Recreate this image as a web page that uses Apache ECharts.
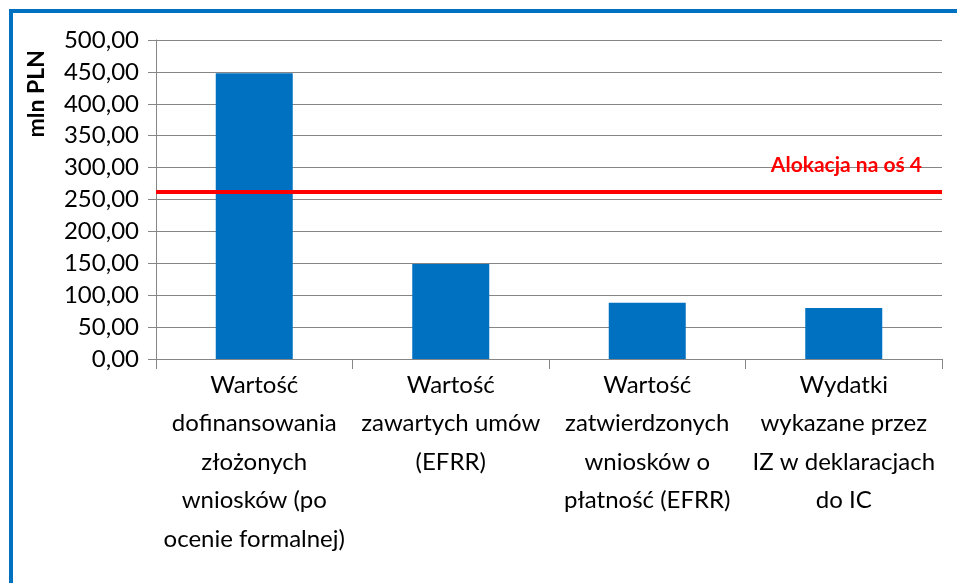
<!DOCTYPE html>
<html>
<head>
<meta charset="utf-8">
<script src="https://cdn.jsdelivr.net/npm/echarts@6/dist/echarts.min.js"></script>
<style>
  html, body { margin: 0; padding: 0; background: #fff; overflow: hidden; }
  #frame { position: absolute; left: 9px; top: 9px; width: 1000px; height: 1000px; border: 4px solid #0070C0; box-sizing: border-box; }
  #chart { position: absolute; left: 0; top: 0; width: 957px; height: 583px; }
</style>
</head>
<body>
<div id="frame"></div>
<div id="chart"></div>
<script>
  // kategorie i wartości (mln PLN)
  const categories = [
    'Wartość\ndofinansowania\nzłożonych\nwniosków (po\nocenie formalnej)',
    'Wartość\nzawartych umów\n(EFRR)',
    'Wartość\nzatwierdzonych\nwniosków o\npłatność (EFRR)',
    'Wydatki\nwykazane przez\nIZ w deklaracjach\ndo IC'
  ];
  const values = [448, 149, 88, 80];
  const allocation = 262;
  const allocationLabel = 'Alokacja na oś 4';
  const yAxisTitle = 'mln PLN';

  const chart = echarts.init(document.getElementById('chart'));
  const font = 'Lato, "Noto Sans", sans-serif';

  const option = {
    animation: false,
    grid: { left: 156, right: 15, top: 40, bottom: 224 },
    xAxis: {
      type: 'category',
      data: categories,
      axisLine: { lineStyle: { color: '#868686', width: 1 } },
      axisTick: { show: true, length: 10, lineStyle: { color: '#868686' } },
      axisLabel: {
        interval: 0,
        color: '#000',
        fontFamily: font,
        fontSize: 24,
        lineHeight: 38.5,
        margin: 7
      }
    },
    yAxis: {
      type: 'value',
      min: 0,
      max: 500,
      interval: 50,
      axisLine: { show: true, lineStyle: { color: '#868686' } },
      axisTick: { show: true, length: 8, lineStyle: { color: '#868686' } },
      splitLine: { lineStyle: { color: '#868686', width: 1 } },
      axisLabel: {
        color: '#000',
        fontFamily: font,
        fontSize: 24,
        margin: 17,
        formatter: v => v.toFixed(2).replace('.', ',')
      }
    },
    graphic: [{
      type: 'text',
      left: 25,
      top: 50,
      rotation: Math.PI / 2,
      style: {
        text: yAxisTitle,
        fill: '#000',
        font: 'bold 23px ' + font
      }
    }],
    series: [{
      type: 'bar',
      data: values,
      barWidth: 77,
      itemStyle: { color: '#0070C0' },
      markLine: {
        silent: true,
        symbol: 'none',
        lineStyle: { color: '#FF0000', width: 4, type: 'solid' },
        label: {
          show: true,
          position: 'insideEndTop',
          formatter: allocationLabel,
          color: '#FF0000',
          fontFamily: font,
          fontWeight: 'bold',
          fontSize: 21,
          distance: [20, 16]
        },
        data: [{ yAxis: allocation }]
      }
    }]
  };

  chart.setOption(option);
</script>
</body>
</html>
